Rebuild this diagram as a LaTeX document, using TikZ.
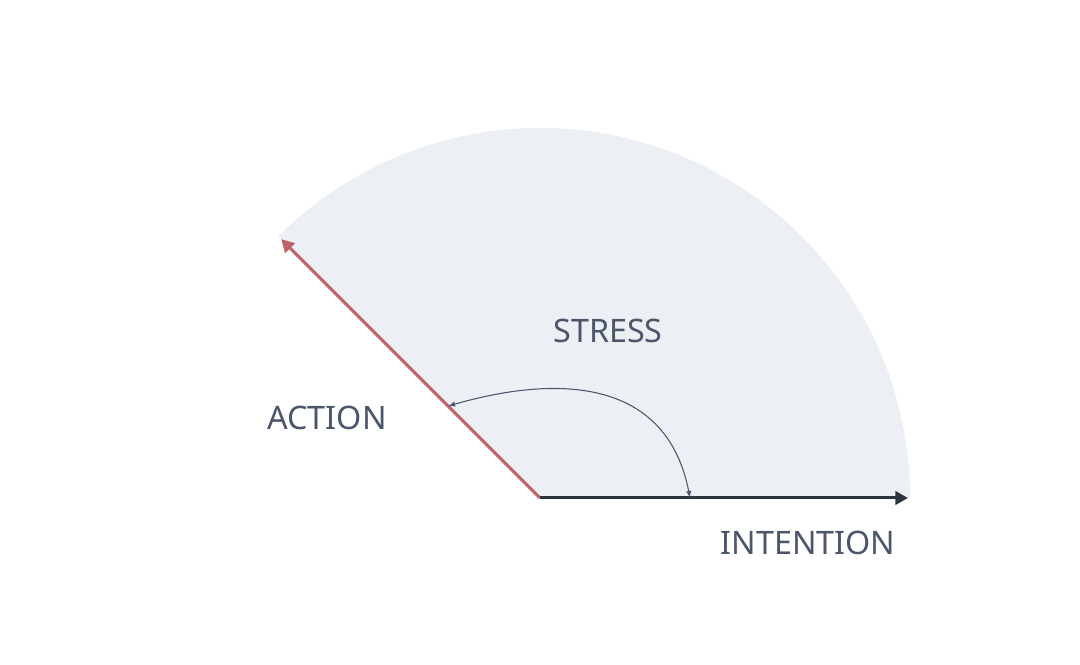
\documentclass[tikz,border=0pt]{standalone}
\usepackage{fontspec}
\setmainfont{Noto Sans}
\usepackage{tikz}
\usetikzlibrary{arrows.meta,calc}
\definecolor{nordzero}{HTML}{2E3440}
\definecolor{nordthree}{HTML}{4C566A}
\definecolor{nordsnow}{HTML}{ECEFF4}
\definecolor{nordred}{HTML}{BF616A}

\begin{document}
\begin{tikzpicture}[axislabel/.style={text=nordthree,font=\fontsize{9.2}{11}\selectfont}]
  \useasboundingbox (0,0) rectangle (10.8,6.65);
  \coordinate (origin) at (5.40,1.67);
  \fill[nordsnow] (origin) -- (9.10,1.67) arc[start angle=0,end angle=135,radius=3.70] -- cycle;
  \coordinate (intent) at (9.08,1.67);
  \coordinate (action) at ($(origin)+(135:3.66)$);
  \coordinate (istart) at (6.90,1.67);
  \coordinate (aend) at ($(origin)+(135:1.30)$);
  \node[axislabel] (stress) at (6.08,3.34) {STRESS};
  \node[axislabel] (actlabel) at (3.27,2.47) {ACTION};
  \node[axislabel] (intlabel) at (8.08,1.22) {INTENTION};
  \draw[nordred,line width=0.85pt,-{Triangle[length=3.6pt,width=3.8pt]}] (origin) -- (action);
  \draw[nordzero,line width=0.85pt,-{Triangle[length=3.6pt,width=3.8pt]}] (origin) -- (intent);
  \draw[nordthree,line width=0.3pt,{Latex[length=2pt]}-{Latex[length=2pt]}] (istart) to[out=101,in=16,looseness=1.18] (aend);
\end{tikzpicture}
\end{document}
